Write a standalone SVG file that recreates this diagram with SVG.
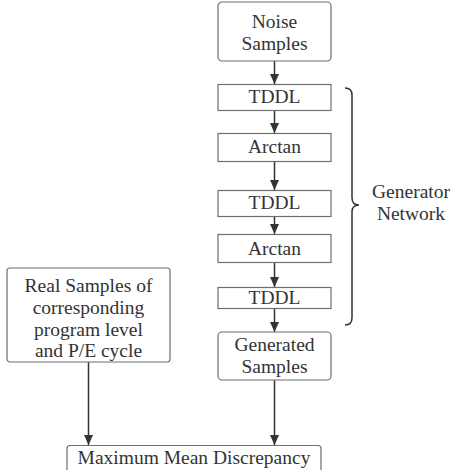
<svg xmlns="http://www.w3.org/2000/svg" width="456" height="470" viewBox="0 0 456 470">
<style>
.box{fill:#fff;stroke:#6e6e6e;stroke-width:1.2}
.t{font-family:"Liberation Serif","Times New Roman",serif;font-size:19.5px;fill:#333;text-anchor:middle}
.c{stroke:#333;stroke-width:1.5;fill:none}
</style>
<defs>
<marker id="ah" markerUnits="userSpaceOnUse" markerWidth="10" markerHeight="12" viewBox="0 0 10 12" refX="10" refY="6" orient="auto">
<path d="M0,1.5 L10,6 L0,10.5 Z" fill="#333"/>
</marker>
</defs>
<rect width="456" height="470" fill="#fff"/>
<g id="connectors">
<line class="c" x1="274.5" y1="61" x2="274.5" y2="84" marker-end="url(#ah)"/>
<line class="c" x1="274.5" y1="111" x2="274.5" y2="133" marker-end="url(#ah)"/>
<line class="c" x1="274.5" y1="161" x2="274.5" y2="190" marker-end="url(#ah)"/>
<line class="c" x1="274.5" y1="217" x2="274.5" y2="234" marker-end="url(#ah)"/>
<line class="c" x1="274.5" y1="263" x2="274.5" y2="287" marker-end="url(#ah)"/>
<line class="c" x1="274.5" y1="309" x2="274.5" y2="332" marker-end="url(#ah)"/>
<line class="c" x1="274.5" y1="380" x2="274.5" y2="445" marker-end="url(#ah)"/>
<line class="c" x1="88.5" y1="362" x2="88.5" y2="445" marker-end="url(#ah)"/>
</g>
<g id="noise">
<rect class="box" x="218" y="2" width="113" height="59" rx="4"/>
<text class="t" x="274.5" y="28">Noise</text>
<text class="t" x="274.5" y="50">Samples</text>
</g>
<g id="tddl1">
<rect class="box" x="218" y="84.5" width="113" height="26"/>
<text class="t" x="274.5" y="103">TDDL</text>
</g>
<g id="arctan1">
<rect class="box" x="218" y="133.5" width="113" height="28"/>
<text class="t" x="274.5" y="153">Arctan</text>
</g>
<g id="tddl2">
<rect class="box" x="218" y="190.5" width="113" height="26"/>
<text class="t" x="274.5" y="209">TDDL</text>
</g>
<g id="arctan2">
<rect class="box" x="218" y="234.5" width="113" height="28"/>
<text class="t" x="274.5" y="255">Arctan</text>
</g>
<g id="tddl3">
<rect class="box" x="218" y="287.5" width="113" height="21"/>
<text class="t" x="274.5" y="304">TDDL</text>
</g>
<g id="generated">
<rect class="box" x="218" y="332" width="113" height="48" rx="4"/>
<text class="t" x="274.5" y="351">Generated</text>
<text class="t" x="274.5" y="373">Samples</text>
</g>
<g id="real">
<rect class="box" x="7" y="268" width="163" height="94" rx="3"/>
<text class="t" x="88.5" y="292">Real Samples of</text>
<text class="t" x="88.5" y="314">corresponding</text>
<text class="t" x="88.5" y="336">program level</text>
<text class="t" x="88.5" y="357">and P/E cycle</text>
</g>
<g id="mmd">
<rect class="box" x="67" y="445.5" width="254" height="32" rx="3"/>
<text class="t" x="194" y="464">Maximum Mean Discrepancy</text>
</g>
<g id="generator-network">
<path class="c" d="M345,88 Q352,88 352,95 L352,198 Q352,205 359,205 Q352,205 352,212 L352,318 Q352,325 345,325"/>
<text class="t" x="411" y="198">Generator</text>
<text class="t" x="411" y="220">Network</text>
</g>
</svg>
